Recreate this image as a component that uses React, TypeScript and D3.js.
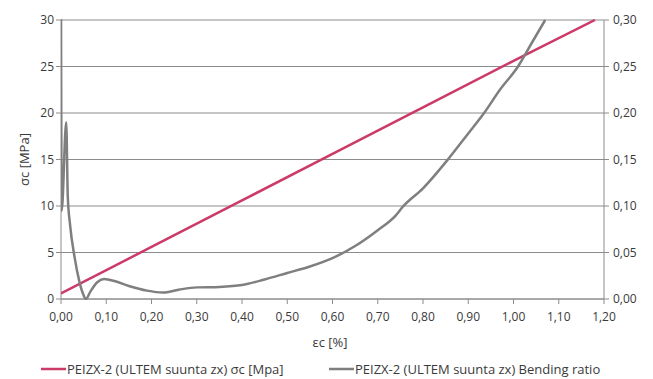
import React from "react";
import * as d3 from "d3";

// Compressive strain εc [%]
const strainStress: number[] = [0, 0.2, 0.4, 0.6, 0.8, 1.0, 1.18];
// Compressive stress σc [MPa]
const stressValues: number[] = [0.6, 5.6, 10.6, 15.6, 20.6, 25.6, 30.0];

// Bending ratio vs strain
const strainBending: number[] = [
  0.0, 0.0015, 0.0115, 0.015, 0.02, 0.03, 0.04, 0.05, 0.055, 0.065, 0.08, 0.095,
  0.12, 0.15, 0.19, 0.225, 0.26, 0.3, 0.35, 0.4, 0.45, 0.5, 0.55, 0.6, 0.65, 0.7,
  0.74, 0.755, 0.8, 0.855, 0.9, 0.935, 0.97, 1.01, 1.04, 1.07,
];
const bendingValues: number[] = [
  0.32, 0.095, 0.19, 0.11, 0.08, 0.045, 0.02, 0.004, 0.0, 0.008, 0.018, 0.0215,
  0.019, 0.014, 0.009, 0.007, 0.01, 0.0125, 0.013, 0.015, 0.021, 0.028, 0.035, 0.044,
  0.057, 0.074, 0.09, 0.099, 0.119, 0.15, 0.178, 0.2, 0.225, 0.25, 0.275, 0.3,
];

const xTicks: number[] = [0, 0.1, 0.2, 0.3, 0.4, 0.5, 0.6, 0.7, 0.8, 0.9, 1.0, 1.1, 1.2];
const yLeftTicks: number[] = [0, 5, 10, 15, 20, 25, 30];
const yRightTicks: number[] = [0, 0.05, 0.1, 0.15, 0.2, 0.25, 0.3];

const seriesNames: string[] = [
  "PEIZX-2 (ULTEM suunta zx) σc [Mpa]",
  "PEIZX-2 (ULTEM suunta zx) Bending ratio",
];
const xTitle = "εc [%]";
const yTitle = "σc [MPa]";

const W = 653;
const H = 379;
const M = { left: 61, right: 604, top: 20, bottom: 299 };
const RED = "#cc3a68";
const GREY = "#7f7f7f";
const GRID = "#8c8c8c";
const TEXT = "#3a3a3a";
const FONT = "'Open Sans', sans-serif";
const FS = 12;
const FS_LABEL = 13;

const fmt = (v: number) => v.toFixed(2).replace(".", ",");

export default function App() {
  const x = d3.scaleLinear().domain([0, 1.2]).range([M.left, M.right]);
  const yL = d3.scaleLinear().domain([0, 30]).range([M.bottom, M.top]);
  const yR = d3.scaleLinear().domain([0, 0.3]).range([M.bottom, M.top]);

  const redLine = d3
    .line<number>()
    .x((_, i) => x(strainStress[i]))
    .y((d) => yL(d))(stressValues) as string;

  const greyLine = d3
    .line<number>()
    .x((_, i) => x(strainBending[i]))
    .y((d) => yR(d))
    .curve(d3.curveMonotoneX)(bendingValues) as string;

  return (
    <svg
      width={W}
      height={H}
      style={{ position: "absolute", left: 0, top: 0, background: "#fff" }}
      fontFamily={FONT}
    >
      <defs>
        <clipPath id="plot">
          <rect x={M.left} y={M.top - 1} width={M.right - M.left} height={M.bottom - M.top + 2} />
        </clipPath>
      </defs>

      {/* horizontal gridlines */}
      {yLeftTicks.map((t) => (
        <line key={t} x1={M.left} x2={M.right} y1={yL(t)} y2={yL(t)} stroke={GRID} strokeWidth={1} />
      ))}

      {/* axes */}
      <line x1={M.left} x2={M.left} y1={M.top} y2={M.bottom} stroke={GRID} />
      <line x1={M.right} x2={M.right} y1={M.top} y2={M.bottom} stroke={GRID} />
      <line x1={M.left} x2={M.right} y1={M.bottom} y2={M.bottom} stroke={GRID} />

      {yLeftTicks.map((t) => (
        <g key={"l" + t}>
          <line x1={M.left - 5} x2={M.left} y1={yL(t)} y2={yL(t)} stroke={GRID} />
          <text x={M.left - 7} y={yL(t)} dy="0.35em" textAnchor="end" fontSize={FS} fill={TEXT}>
            {t}
          </text>
        </g>
      ))}
      {yRightTicks.map((t) => (
        <g key={"r" + t}>
          <line x1={M.right} x2={M.right + 5} y1={yR(t)} y2={yR(t)} stroke={GRID} />
          <text x={M.right + 9} y={yR(t)} dy="0.35em" textAnchor="start" fontSize={FS} fill={TEXT}>
            {fmt(t)}
          </text>
        </g>
      ))}
      {xTicks.map((t) => (
        <g key={"x" + t}>
          <line x1={x(t)} x2={x(t)} y1={M.bottom} y2={M.bottom + 5} stroke={GRID} />
          <text x={x(t)} y={317} dy="0.35em" textAnchor="middle" fontSize={FS} fill={TEXT}>
            {fmt(t)}
          </text>
        </g>
      ))}

      {/* series */}
      <g clipPath="url(#plot)">
        <path d={redLine} fill="none" stroke={RED} strokeWidth={2.5} />
        <path d={greyLine} fill="none" stroke={GREY} strokeWidth={2.5} strokeLinejoin="round" />
      </g>

      {/* axis titles */}
      <text x={330} y={342} dy="0.35em" textAnchor="middle" fontSize={FS_LABEL} fill={TEXT}>
        {xTitle}
      </text>
      <text
        transform={`translate(24,${(M.top + M.bottom) / 2}) rotate(-90)`}
        textAnchor="middle"
        dy="0.35em"
        fontSize={FS_LABEL}
        fill={TEXT}
      >
        {yTitle}
      </text>

      {/* legend */}
      <line x1={41} x2={66} y1={369} y2={369} stroke={RED} strokeWidth={2.5} />
      <text x={67} y={369} dy="0.35em" fontSize={FS_LABEL} fill={TEXT}>
        {seriesNames[0]}
      </text>
      <line x1={329} x2={354} y1={369} y2={369} stroke={GREY} strokeWidth={2.5} />
      <text x={355} y={369} dy="0.35em" fontSize={FS_LABEL} fill={TEXT}>
        {seriesNames[1]}
      </text>
    </svg>
  );
}
